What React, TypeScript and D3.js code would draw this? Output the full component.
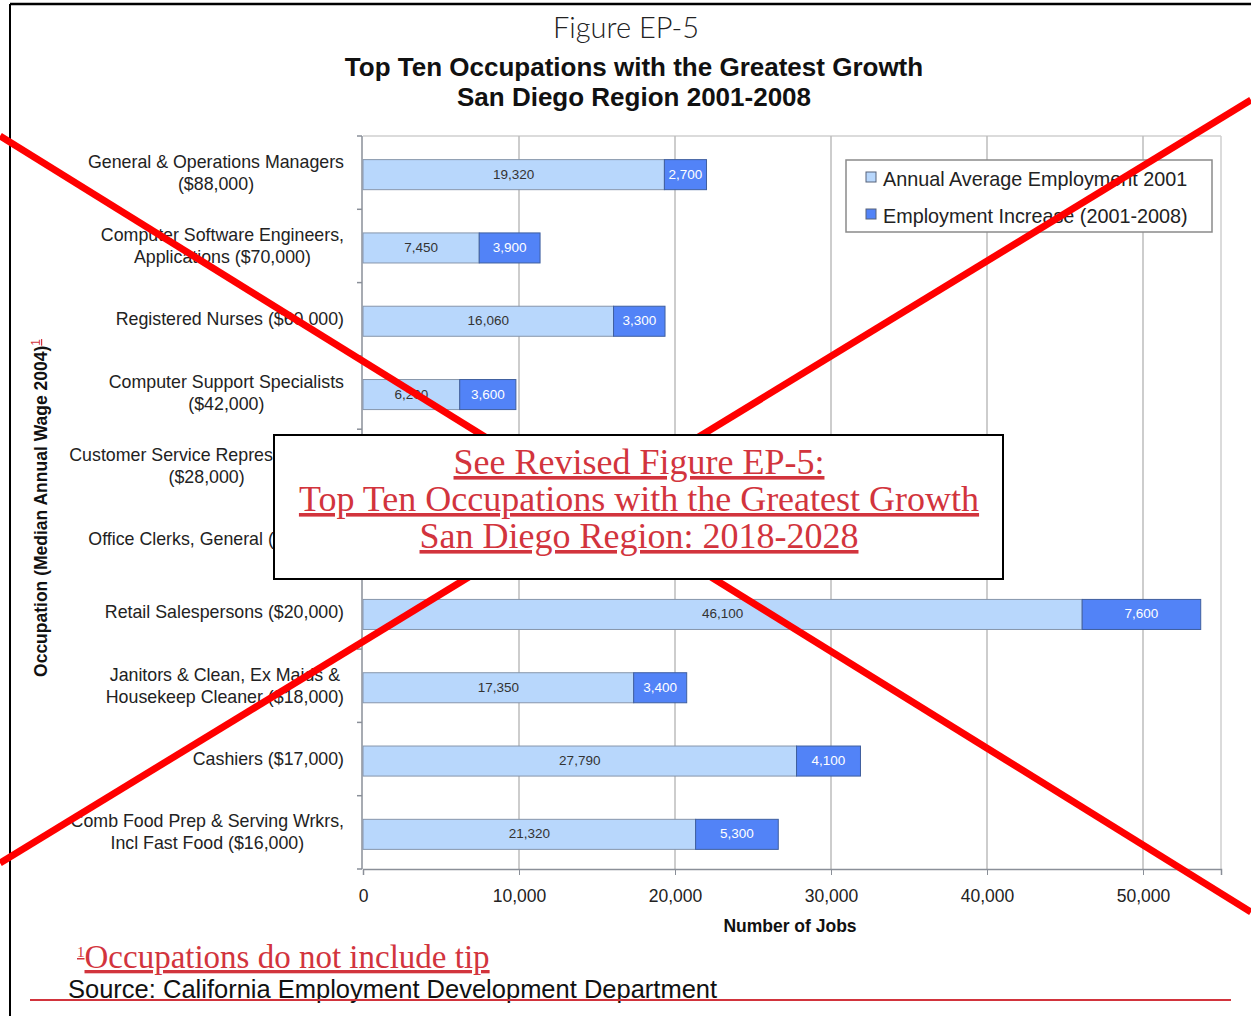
import React, { useEffect, useRef } from "react";
import * as d3 from "d3";

const occupations: string[][] = [
  ["General & Operations Managers", "($88,000)"],
  ["Computer Software Engineers,", "Applications ($70,000)"],
  ["Registered Nurses ($60,000)"],
  ["Computer Support Specialists", "($42,000)"],
  ["Customer Service Representatives", "($28,000)"],
  ["Office Clerks, General ($23,000)"],
  ["Retail Salespersons ($20,000)"],
  ["Janitors & Clean, Ex Maids &", "Housekeep Cleaner ($18,000)"],
  ["Cashiers ($17,000)"],
  ["Comb Food Prep & Serving Wrkrs,", "Incl Fast Food ($16,000)"],
];
const employment2001: number[] = [19320, 7450, 16060, 6200, 11000, 31000, 46100, 17350, 27790, 21320];
const increase: number[] = [2700, 3900, 3300, 3600, 3300, 3500, 7600, 3400, 4100, 5300];
const xTicks: number[] = [0, 10000, 20000, 30000, 40000, 50000];
const seriesNames: string[] = ["Annual Average Employment 2001", "Employment Increase (2001-2008)"];

const W = 1251;
const H = 1016;
const LIGHT = "#b8d7fc";
const DARK = "#5283f7";
const SANS = "'Liberation Sans', Arial, sans-serif";
const SERIF = "'Liberation Serif', 'Times New Roman', serif";
const RED = "#d2343d";

export default function App() {
  const ref = useRef<SVGSVGElement | null>(null);

  useEffect(() => {
    const svg = d3.select(ref.current);
    svg.selectAll("*").remove();

    const left = 363, right = 1221, top = 136, bottom = 869;
    const x = d3.scaleLinear().domain([0, 55000]).range([left, right]);
    const y = d3.scaleBand<number>().domain(d3.range(occupations.length)).range([top + 2, bottom + 2]).paddingInner(0.59).paddingOuter(0.295);
    const yb = d3.scaleBand<number>().domain(d3.range(occupations.length)).range([top, bottom]);

    svg.append("rect").attr("width", W).attr("height", H).attr("fill", "#fff");

    // frame
    svg.append("line").attr("x1", 10).attr("x2", W).attr("y1", 4).attr("y2", 4).attr("stroke", "#000").attr("stroke-width", 2.5);
    svg.append("line").attr("x1", 10).attr("x2", 10).attr("y1", 4).attr("y2", H).attr("stroke", "#000").attr("stroke-width", 2);

    // titles
    svg.append("text").attr("x", 626).attr("y", 38).attr("text-anchor", "middle").attr("font-family", "Lato, sans-serif").attr("font-weight", 300)
      .attr("font-size", 29).attr("fill", "#222").text("Figure EP-5");
    svg.append("text").attr("x", 634).attr("y", 76).attr("text-anchor", "middle").attr("font-family", SANS).attr("font-weight", "bold")
      .attr("font-size", 26).attr("fill", "#111").text("Top Ten Occupations with the Greatest Growth");
    svg.append("text").attr("x", 634).attr("y", 106).attr("text-anchor", "middle").attr("font-family", SANS).attr("font-weight", "bold")
      .attr("font-size", 26).attr("fill", "#111").text("San Diego Region 2001-2008");

    // plot frame & grid
    svg.append("line").attr("x1", left).attr("x2", right).attr("y1", top).attr("y2", top).attr("stroke", "#cfcfcf").attr("stroke-width", 1.5);
    svg.append("line").attr("x1", right).attr("x2", right).attr("y1", top).attr("y2", bottom).attr("stroke", "#cfcfcf").attr("stroke-width", 1.5);
    svg.append("g").selectAll("line").data(xTicks.slice(1)).join("line")
      .attr("x1", (d) => x(d)).attr("x2", (d) => x(d)).attr("y1", top).attr("y2", bottom)
      .attr("stroke", "#bdbdbd").attr("stroke-width", 1.5);

    // axes
    const ax = svg.append("g").attr("transform", `translate(0,${bottom})`).call(
      d3.axisBottom(x).tickValues(xTicks).tickSize(6).tickFormat((d) => d3.format(",")(d as number))
    );
    ax.select(".domain").attr("stroke", "#8a8f98").attr("stroke-width", 1.5);
    ax.selectAll(".tick line").attr("stroke", "#8a8f98");
    ax.selectAll(".tick text").attr("font-family", SANS).attr("font-size", 17.5).attr("fill", "#222").attr("dy", "1.35em");

    svg.append("line").attr("x1", left - 1).attr("x2", left - 1).attr("y1", top).attr("y2", bottom).attr("stroke", "#8a8f98").attr("stroke-width", 1.5);
    svg.append("g").selectAll("line").data(d3.range(occupations.length + 1)).join("line")
      .attr("x1", left - 6).attr("x2", left - 1)
      .attr("y1", (i) => (i < occupations.length ? yb(i)! : bottom)).attr("y2", (i) => (i < occupations.length ? yb(i)! : bottom))
      .attr("stroke", "#8a8f98").attr("stroke-width", 1.5);

    svg.append("text").attr("x", 790).attr("y", 932).attr("text-anchor", "middle").attr("font-family", SANS).attr("font-weight", "bold")
      .attr("font-size", 17.5).attr("fill", "#111").text("Number of Jobs");

    // y title
    const yt = svg.append("text").attr("transform", "translate(47,508) rotate(-90)").attr("text-anchor", "middle")
      .attr("font-family", SANS).attr("font-weight", "bold").attr("font-size", 17.5).attr("fill", "#111");
    yt.append("tspan").text("Occupation (Median Annual Wage 2004)");
    yt.append("tspan").attr("dy", -7).attr("font-size", 12).attr("font-weight", "normal").attr("fill", RED).attr("text-decoration", "underline").text("1");

    // category labels
    const labelRight = 344;
    occupations.forEach((lines, i) => {
      const cy = yb(i)! + yb.bandwidth() / 2;
      const g = svg.append("g");
      const texts = lines.map((ln, k) =>
        g.append("text").attr("font-family", SANS).attr("font-size", 17.8).attr("fill", "#222")
          .attr("y", cy + 6 + (k - (lines.length - 1) / 2) * 22).attr("text-anchor", "middle").text(ln)
      );
      const maxW = d3.max(texts, (t) => (t.node() as SVGTextElement).getComputedTextLength()) || 0;
      texts.forEach((t) => t.attr("x", labelRight - maxW / 2));
    });

    // bars
    const rows = occupations.map((_, i) => ({ i, a: employment2001[i], b: increase[i] }));
    const bars = svg.append("g");
    bars.selectAll("rect.a").data(rows).join("rect").attr("class", "a")
      .attr("x", x(0)).attr("y", (d) => y(d.i)!).attr("width", (d) => x(d.a) - x(0)).attr("height", y.bandwidth())
      .attr("fill", LIGHT).attr("stroke", "#8796ab").attr("stroke-width", 1);
    bars.selectAll("rect.b").data(rows).join("rect").attr("class", "b")
      .attr("x", (d) => x(d.a)).attr("y", (d) => y(d.i)!).attr("width", (d) => x(d.a + d.b) - x(d.a)).attr("height", y.bandwidth())
      .attr("fill", DARK).attr("stroke", "#3f5f9f").attr("stroke-width", 1);
    bars.selectAll("text.a").data(rows).join("text").attr("class", "a")
      .attr("x", (d) => (x(0) + x(d.a)) / 2).attr("y", (d) => y(d.i)! + y.bandwidth() / 2 + 4)
      .attr("text-anchor", "middle").attr("font-family", SANS).attr("font-size", 13.5).attr("fill", "#333")
      .text((d) => d3.format(",")(d.a));
    bars.selectAll("text.b").data(rows).join("text").attr("class", "b")
      .attr("x", (d) => (x(d.a) + x(d.a + d.b)) / 2).attr("y", (d) => y(d.i)! + y.bandwidth() / 2 + 4)
      .attr("text-anchor", "middle").attr("font-family", SANS).attr("font-size", 13.5).attr("fill", "#fff")
      .text((d) => d3.format(",")(d.b));

    // legend
    const lg = svg.append("g");
    lg.append("rect").attr("x", 846).attr("y", 160).attr("width", 366).attr("height", 72).attr("fill", "#fff").attr("stroke", "#8a8a8a").attr("stroke-width", 1.5);
    seriesNames.forEach((s, k) => {
      lg.append("rect").attr("x", 866).attr("y", 172 + k * 37).attr("width", 10).attr("height", 10)
        .attr("fill", k === 0 ? LIGHT : DARK).attr("stroke", "#56627a").attr("stroke-width", 1);
      lg.append("text").attr("x", 883).attr("y", 186 + k * 37).attr("font-family", SANS).attr("font-size", 19.8).attr("fill", "#222").text(s);
    });

    // red X
    svg.append("line").attr("x1", 0).attr("y1", 136).attr("x2", W).attr("y2", 912).attr("stroke", "#ff0000").attr("stroke-width", 7);
    svg.append("line").attr("x1", 0).attr("y1", 863).attr("x2", W).attr("y2", 100).attr("stroke", "#ff0000").attr("stroke-width", 7);

    // overlay box
    svg.append("rect").attr("x", 274).attr("y", 435).attr("width", 729).attr("height", 144).attr("fill", "#fff").attr("stroke", "#000").attr("stroke-width", 2);
    const boxLines = ["See Revised Figure EP-5:", "Top Ten Occupations with the Greatest Growth", "San Diego Region: 2018-2028"];
    boxLines.forEach((t, k) => {
      svg.append("text").attr("x", 639).attr("y", 474 + k * 37).attr("text-anchor", "middle").attr("font-family", SERIF)
        .attr("font-size", 36).attr("fill", RED).attr("text-decoration", "underline").text(t);
    });

    // footnote & source
    const fn = svg.append("text").attr("x", 77).attr("y", 968).attr("font-family", SERIF).attr("font-size", 33).attr("fill", RED).attr("text-decoration", "underline");
    fn.append("tspan").attr("font-size", 15).attr("dy", -11).text("1");
    fn.append("tspan").attr("dy", 11).text("Occupations do not include tip");
    svg.append("text").attr("x", 68).attr("y", 998).attr("font-family", SANS).attr("font-size", 25.5).attr("fill", "#111")
      .text("Source: California Employment Development Department");
    svg.append("line").attr("x1", 30).attr("x2", 1231).attr("y1", 1000).attr("y2", 1000).attr("stroke", RED).attr("stroke-width", 2);
  }, []);

  return <svg ref={ref} width={W} height={H} style={{ position: "absolute", left: 0, top: 0 }} />;
}
